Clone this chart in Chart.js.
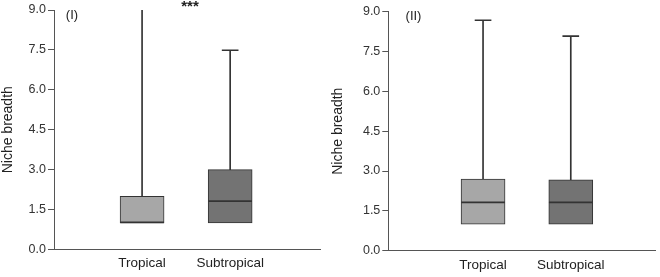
<!DOCTYPE html>
<html>
<head>
<meta charset="utf-8">
<script src="https://cdn.jsdelivr.net/npm/chart.js@4.4.1/dist/chart.umd.min.js"></script>
<style>
  body { margin: 0; background: #fff; }
  .panel { position: absolute; top: 0; width: 330px; height: 277px; }
</style>
</head>
<body>
<div class="panel" style="left:0"><canvas id="panel-1"></canvas></div>
<div class="panel" style="left:330px"><canvas id="panel-2"></canvas></div>

<script>

/* BOXPLOTS: NICHE BREADTH (I) and (II) */

const categories = ['Tropical', 'Subtropical'];
const catPos = [1, 2];
const yTicks = [0, 1.5, 3, 4.5, 6, 7.5, 9];
const yMax = 9;

// panel (I)
const q1_I = [1.0, 1.0];
const median_I = [1.0, 1.8];
const q3_I = [2.0, 3.0];
const max_I = [9.2, 7.47];

// panel (II)
const q1_II = [1.0, 1.0];
const median_II = [1.8, 1.8];
const q3_II = [2.7, 2.67];
const max_II = [8.66, 8.06];

const boxColors = ['#a7a7a7', '#737373'];
const lineColor = '#333333';
const fontFamily = '"Liberation Sans", Arial, sans-serif';

// small text labels like "(I)" and "***"
const notePlugin = {
    id: 'notes',
    afterDraw(chart, args, opts) {
        const ctx = chart.ctx;
        ctx.save();
        ctx.textAlign = 'center';
        ctx.textBaseline = 'middle';
        (opts.items || []).forEach(function(n) {
            ctx.font = n.font;
            ctx.fillStyle = '#222';
            ctx.fillText(n.text, n.x, n.y);
        });
        ctx.restore();
    }
};

function makeBoxplot(id, q1, med, q3, max, cfg) {
    const boxData = catPos.map((x, i) => ({ x: x, y: [q1[i], q3[i]] }));
    const whiskerData = catPos.map((x, i) => ({ x: x, y: [q3[i], max[i]] }));
    // median and cap are zero-height bars shown as 1px lines
    const medianData = catPos.map((x, i) => ({ x: x, y: [med[i], med[i]] }));
    const capData = catPos.map((x, i) => ({ x: x, y: [max[i], max[i]] }));

    const ctx = document.getElementById(id).getContext('2d');
    return new Chart(ctx, {
        type: 'bar',
        data: {
            datasets: [{
                label: 'whisker',
                data: whiskerData,
                backgroundColor: lineColor,
                barThickness: 1,
                grouped: false,
                order: 3
            }, {
                label: 'box',
                data: boxData,
                backgroundColor: boxColors,
                borderColor: lineColor,
                borderWidth: 1,
                borderSkipped: false,
                barThickness: 44,
                grouped: false,
                order: 2
            }, {
                label: 'median',
                data: medianData,
                backgroundColor: lineColor,
                minBarLength: 1,
                barThickness: 43,
                grouped: false,
                order: 0
            }, {
                label: 'cap',
                data: capData,
                // whisker running off the top of the axis: no cap
                backgroundColor: c => (c.raw && c.raw.y[0] > yMax) ? 'rgba(0,0,0,0)' : lineColor,
                minBarLength: 1,
                barThickness: 16,
                grouped: false,
                order: 1
            }]
        },
        options: {
            responsive: true,
            maintainAspectRatio: false,
            animation: false,
            events: [],
            layout: { padding: cfg.padding },
            plugins: {
                legend: { display: false },
                tooltip: { enabled: false },
                notes: { items: cfg.notes }
            },
            scales: {
                x: {
                    type: 'linear',
                    offset: false,
                    min: cfg.xMin,
                    max: cfg.xMax,
                    afterFit: function(scale) {
                        scale.height = cfg.xHeight;
                        scale.paddingLeft = 0;
                        scale.paddingRight = 0;
                    },
                    afterBuildTicks: function(scale) {
                        scale.ticks = catPos.map(v => ({ value: v }));
                    },
                    ticks: {
                        callback: v => categories[catPos.indexOf(v)] || '',
                        color: '#222',
                        font: { family: fontFamily, size: 13.5 },
                        padding: 6,
                        maxRotation: 0,
                        autoSkip: false
                    },
                    grid: { display: false, drawTicks: false },
                    border: { display: true, color: '#555', width: 1 }
                },
                y: {
                    min: 0,
                    max: yMax,
                    afterFit: function(scale) { scale.width = cfg.yWidth; },
                    afterBuildTicks: function(scale) {
                        scale.ticks = yTicks.map(v => ({ value: v }));
                    },
                    ticks: {
                        callback: v => v.toFixed(1),
                        color: '#333',
                        font: { family: fontFamily, size: 12.5 },
                        padding: 2
                    },
                    grid: {
                        drawOnChartArea: false,
                        drawTicks: true,
                        tickLength: 6,
                        color: '#555'
                    },
                    border: { display: true, color: '#555', width: 1 },
                    title: {
                        display: true,
                        text: 'Niche breadth',
                        color: '#222',
                        font: { family: fontFamily, size: 14 },
                        padding: { top: 0, bottom: 0 }
                    }
                }
            }
        },
        plugins: [notePlugin]
    });
}

makeBoxplot('panel-1', q1_I, median_I, q3_I, max_I, {
    padding: { top: 10, right: 10, bottom: 0, left: 0 },
    xMin: 0, xMax: 3.02, xHeight: 27.5, yWidth: 54,
    notes: [
        { text: '(I)', x: 72, y: 15, font: '13px ' + fontFamily },
        { text: '***', x: 190, y: 7, font: 'bold 15px ' + fontFamily }
    ]
});

makeBoxplot('panel-2', q1_II, median_II, q3_II, max_II, {
    padding: { top: 11.7, right: 5, bottom: 0, left: 0 },
    xMin: -0.08, xMax: 2.96, xHeight: 26.3, yWidth: 58.3,
    notes: [
        { text: '(II)', x: 83.5, y: 16.5, font: '13px ' + fontFamily }
    ]
});

</script>
</body>
</html>
